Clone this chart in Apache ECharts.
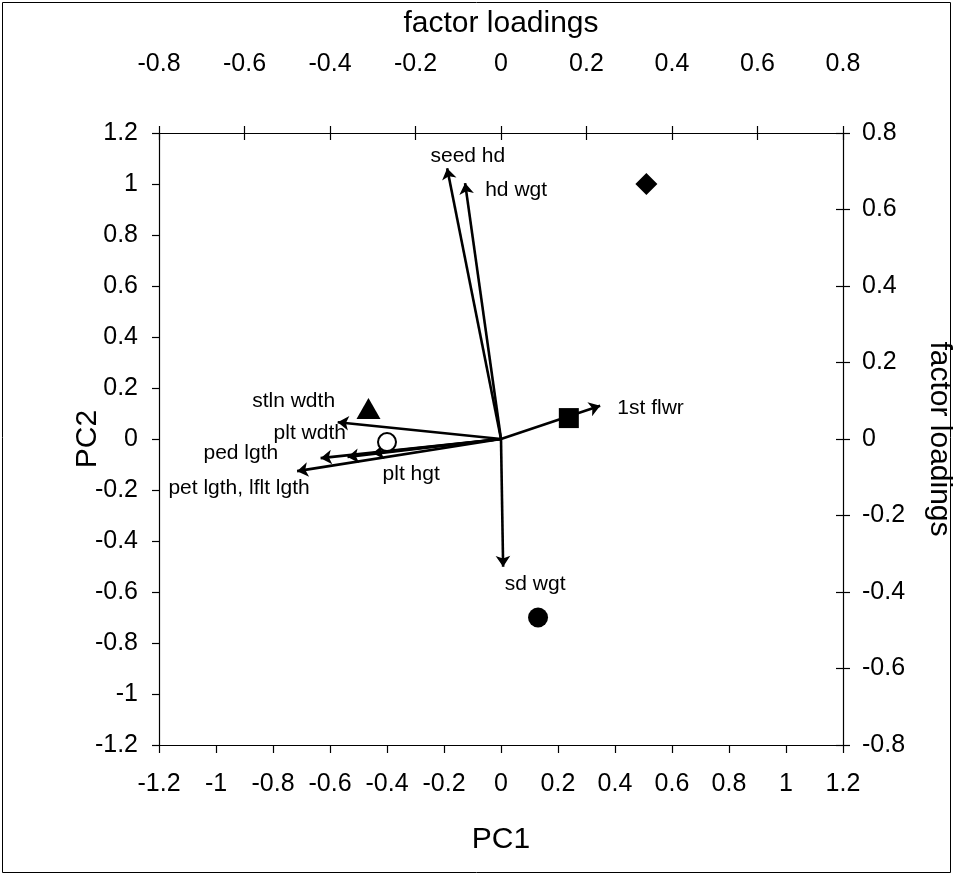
<!DOCTYPE html>
<html><head><meta charset="utf-8">
<script src="https://cdn.jsdelivr.net/npm/echarts@6/dist/echarts.min.js"></script>
<style>html,body{margin:0;padding:0;background:#fff}#c{width:954px;height:877px}</style>
</head><body><div id="c"></div>
<script>
// Scores (PC1, PC2) - bottom/left axes
const scoreNames = ['diamond','triangle','square','openCircle','filledCircle'];
const scorePC1 = [0.51, -0.465, 0.238, -0.40, 0.13];
const scorePC2 = [1.00, 0.12, 0.082, -0.012, -0.70];
// Factor loadings (vectors) - top/right axes
const vecNames = ['seed hd','hd wgt','1st flwr','sd wgt','stln wdth','plt wdth','plt hgt','ped lgth','pet lgth, lflt lgth'];
const vecX = [-0.126, -0.084, 0.232, 0.005, -0.382, -0.359, -0.30, -0.422, -0.477];
const vecY = [0.708, 0.669, 0.087, -0.334, 0.044, -0.047, -0.037, -0.050, -0.084];
// Label anchor positions (loading coords, left edge of text)
const labelText = ['seed hd','hd wgt','1st flwr','sd wgt','stln wdth','plt wdth','ped lgth','pet lgth, lflt lgth','plt hgt'];
const labelX = [-0.165, -0.037, 0.272, 0.009, -0.582, -0.532, -0.696, -0.778, -0.277];
const labelY = [0.74, 0.651, 0.081, -0.379, 0.099, 0.016, -0.037, -0.128, -0.092];
// Axis ranges / tick intervals
const pcMin = -1.2, pcMax = 1.2, pcStep = 0.2;
const fMin = -0.8, fMax = 0.8, fStep = 0.2;

const FONT = 'Liberation Sans';
const tickFont = 25, nameFont = 30, lblFont = 21;

const chart = echarts.init(document.getElementById('c'));
const axisLineStyle = {lineStyle:{color:'#000', width:1.2}};
const tickStyle = {lineStyle:{color:'#000', width:1.2}};

const symbols = {
  diamond: {symbol:'diamond', size:[22,22], fill:'#000'},
  triangle: {symbol:'triangle', size:[24,21], fill:'#000'},
  square: {symbol:'rect', size:[20,20], fill:'#000'},
  openCircle: {symbol:'circle', size:18, fill:'#fff'},
  filledCircle: {symbol:'circle', size:20, fill:'#000'}
};

const scoreData = scoreNames.map((n,i)=>{
  const s = symbols[n];
  return {value:[scorePC1[i], scorePC2[i]], symbol:s.symbol, symbolSize:s.size,
    itemStyle:{color:s.fill, opacity:1, borderColor:'#000', borderWidth: n==='openCircle'?2:0}};
});

chart.setOption({
  animation:false,
  grid:{left:159, right:111, top:133, bottom:132, containLabel:false, outerBoundsMode:'none'},
  xAxis:[
    {type:'value', position:'bottom', min:pcMin, max:pcMax, interval:pcStep,
     name:'PC1', nameLocation:'middle', nameGap:80, nameMoveOverlap:false,
     nameTextStyle:{fontFamily:FONT, fontSize:nameFont, color:'#000'},
     axisLine:{show:true, onZero:false, ...axisLineStyle},
     axisTick:{show:true, inside:false, length:8, ...tickStyle},
     axisLabel:{fontFamily:FONT, fontSize:tickFont, color:'#000', margin:27},
     splitLine:{show:false}},
    {type:'value', position:'top', min:fMin, max:fMax, interval:fStep,
     name:'factor loadings', nameLocation:'middle', nameGap:94, nameMoveOverlap:false,
     nameTextStyle:{fontFamily:FONT, fontSize:nameFont, color:'#000'},
     axisLine:{show:true, onZero:false, ...axisLineStyle},
     axisTick:{show:true, inside:false, length:7, ...tickStyle},
     axisLabel:{fontFamily:FONT, fontSize:tickFont, color:'#000', margin:56},
     splitLine:{show:false}},
    {type:'value', position:'top', min:fMin, max:fMax, interval:fStep,
     axisLine:{show:false, onZero:false},
     axisTick:{show:true, inside:true, length:7, ...tickStyle},
     axisLabel:{show:false}, splitLine:{show:false}}
  ],
  yAxis:[
    {type:'value', position:'left', min:pcMin, max:pcMax, interval:pcStep,
     name:'PC2', nameLocation:'middle', nameGap:56, nameRotate:90, nameMoveOverlap:false,
     nameTextStyle:{fontFamily:FONT, fontSize:nameFont, color:'#000'},
     axisLine:{show:true, onZero:false, ...axisLineStyle},
     axisTick:{show:true, inside:false, length:7, ...tickStyle},
     axisLabel:{fontFamily:FONT, fontSize:tickFont, color:'#000', margin:21},
     splitLine:{show:false}},
    {type:'value', position:'right', min:fMin, max:fMax, interval:fStep,
     name:'factor loadings', nameLocation:'middle', nameGap:81, nameRotate:-90, nameMoveOverlap:false,
     nameTextStyle:{fontFamily:FONT, fontSize:nameFont, color:'#000'},
     axisLine:{show:true, onZero:false, ...axisLineStyle},
     axisTick:{show:true, inside:false, length:7, ...tickStyle},
     axisLabel:{fontFamily:FONT, fontSize:tickFont, color:'#000', margin:19},
     splitLine:{show:false}},
    {type:'value', position:'right', min:fMin, max:fMax, interval:fStep,
     axisLine:{show:false, onZero:false},
     axisTick:{show:true, inside:true, length:7, ...tickStyle},
     axisLabel:{show:false}, splitLine:{show:false}}
  ],
  series:[
    {type:'lines', coordinateSystem:'cartesian2d', xAxisIndex:1, yAxisIndex:1,
     symbol:['none','arrow'], symbolSize:[0,11],
     lineStyle:{color:'#000', width:2.6, opacity:1},
     itemStyle:{color:'#000'},
     data: vecNames.map((n,i)=>({name:n, coords:[[0,0],[vecX[i], vecY[i]]]})),
     z:3},
    {type:'scatter', xAxisIndex:1, yAxisIndex:1, symbolSize:0,
     label:{show:true, position:'right', distance:0, fontFamily:FONT, fontSize:lblFont, color:'#000',
       formatter:(p)=>labelText[p.dataIndex]},
     itemStyle:{opacity:1},
     data: labelX.map((x,i)=>[x, labelY[i]]), z:4},
    {type:'scatter', xAxisIndex:0, yAxisIndex:0, data:scoreData, z:5}
  ],
  graphic:[{type:'rect', shape:{x:2.5, y:2.5, width:948, height:870},
    style:{fill:null, stroke:'#000', lineWidth:1}, silent:true}]
});
</script></body></html>
